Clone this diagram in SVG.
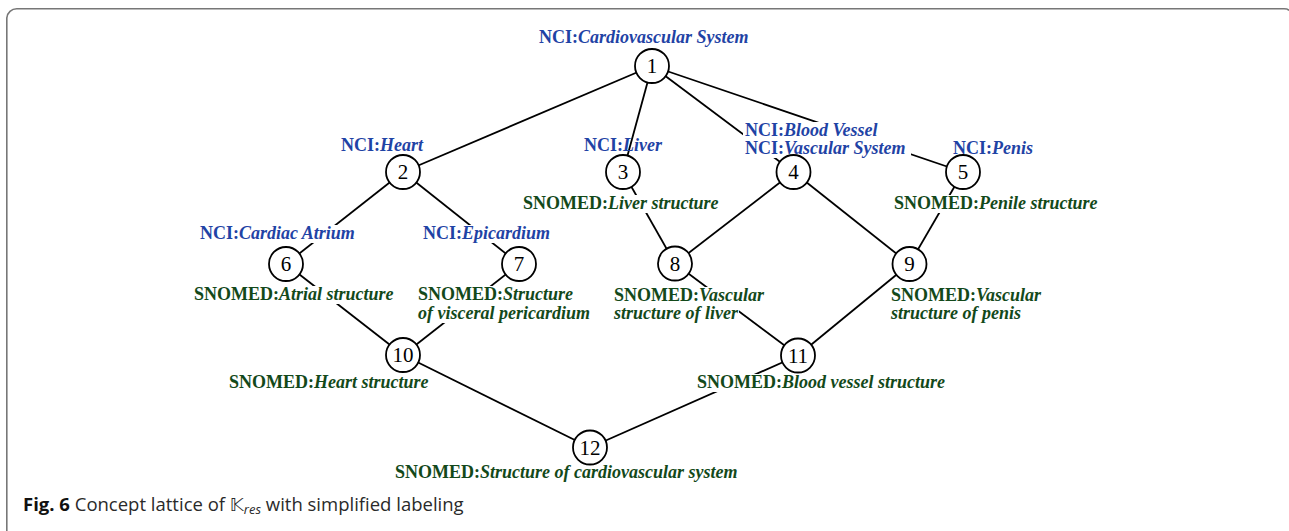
<svg xmlns="http://www.w3.org/2000/svg" width="1289" height="531" viewBox="0 0 1289 531">
<style>
.frame{fill:none;stroke:#777;stroke-width:1.6}
.edge{stroke:#000;stroke-width:1.8;fill:none}
.node circle{fill:#fff;stroke:#000;stroke-width:1.8}
.num{font-family:"Liberation Serif",serif;font-size:21px;text-anchor:middle;fill:#000}
.lbl{font-family:"Liberation Serif",serif;font-size:18px;font-weight:bold}
.nci{fill:#1f43a5}
.sno{fill:#13491a}
.it{font-style:italic}
.cap{font-family:"Open Sans","DejaVu Sans",sans-serif;font-size:18.5px;fill:#2a2a2a}
</style>
<defs>
<mask id="lm" maskUnits="userSpaceOnUse" x="0" y="0" width="1289" height="531">
<rect x="0" y="0" width="1289" height="531" fill="#fff"/>
<rect x="743" y="122" width="139" height="18" fill="#000"/>
<rect x="743" y="140" width="168" height="18" fill="#000"/>
<rect x="198" y="225" width="161" height="18" fill="#000"/>
<rect x="421" y="225" width="132" height="18" fill="#000"/>
<rect x="192" y="286" width="205" height="18" fill="#000"/>
<rect x="416" y="286" width="161" height="18" fill="#000"/>
<rect x="416" y="304" width="177" height="19" fill="#000"/>
<rect x="521" y="195" width="203" height="18" fill="#000"/>
<rect x="892" y="195" width="210" height="18" fill="#000"/>
<rect x="612" y="287" width="158" height="18" fill="#000"/>
<rect x="612" y="305" width="127" height="18" fill="#000"/>
<rect x="695" y="374" width="252" height="18" fill="#000"/>
</mask>
</defs>
<rect width="1289" height="531" fill="#fff"/>
<path class="frame" d="M6.8 531 V18 A10 10 0 0 1 16.8 8.8 H1284 Q1288 8.8 1289 10.5"/>

<g id="connectors" mask="url(#lm)">
<line class="edge" x1="652" y1="66" x2="403" y2="172"/>
<line class="edge" x1="652" y1="66" x2="623" y2="172"/>
<line class="edge" x1="652" y1="66" x2="793.5" y2="172"/>
<line class="edge" x1="652" y1="66" x2="963" y2="172"/>
<line class="edge" x1="403" y1="172" x2="286" y2="264"/>
<line class="edge" x1="403" y1="172" x2="519" y2="264"/>
<line class="edge" x1="623" y1="172" x2="675" y2="263.5"/>
<line class="edge" x1="793.5" y1="172" x2="675" y2="263.5"/>
<line class="edge" x1="793.5" y1="172" x2="909.5" y2="264"/>
<line class="edge" x1="963" y1="172" x2="909.5" y2="264"/>
<line class="edge" x1="286" y1="264" x2="403" y2="355"/>
<line class="edge" x1="519" y1="264" x2="403" y2="355"/>
<line class="edge" x1="675" y1="263.5" x2="798" y2="355.5"/>
<line class="edge" x1="909.5" y1="264" x2="798" y2="355.5"/>
<line class="edge" x1="403" y1="355" x2="590" y2="447.5"/>
<line class="edge" x1="798" y1="355.5" x2="590" y2="447.5"/>
</g>

<g id="n1" class="node"><circle cx="652" cy="66" r="17"/><text class="num" x="652" y="73">1</text>
<text class="lbl nci" x="539" y="43">NCI:<tspan class="it">Cardiovascular System</tspan></text></g>
<g id="n2" class="node"><circle cx="403" cy="172" r="17"/><text class="num" x="403" y="179">2</text>
<text class="lbl nci" x="341" y="151">NCI:<tspan class="it">Heart</tspan></text></g>
<g id="n3" class="node"><circle cx="623" cy="172" r="17"/><text class="num" x="623" y="179">3</text>
<text class="lbl nci" x="584" y="151">NCI:<tspan class="it">Liver</tspan></text>
<text class="lbl sno" x="523" y="209">SNOMED:<tspan class="it">Liver structure</tspan></text></g>
<g id="n4" class="node"><circle cx="793.5" cy="172" r="17"/><text class="num" x="793.5" y="179">4</text>
<text class="lbl nci" x="745" y="136">NCI:<tspan class="it">Blood Vessel</tspan></text>
<text class="lbl nci" x="745" y="154">NCI:<tspan class="it">Vascular System</tspan></text></g>
<g id="n5" class="node"><circle cx="963" cy="172" r="17"/><text class="num" x="963" y="179">5</text>
<text class="lbl nci" x="953" y="154">NCI:<tspan class="it">Penis</tspan></text>
<text class="lbl sno" x="894" y="209">SNOMED:<tspan class="it">Penile structure</tspan></text></g>
<g id="n6" class="node"><circle cx="286" cy="264" r="17"/><text class="num" x="286" y="271">6</text>
<text class="lbl nci" x="200" y="239">NCI:<tspan class="it">Cardiac Atrium</tspan></text>
<text class="lbl sno" x="194" y="300">SNOMED:<tspan class="it">Atrial structure</tspan></text></g>
<g id="n7" class="node"><circle cx="519" cy="264" r="17"/><text class="num" x="519" y="271">7</text>
<text class="lbl nci" x="423" y="239">NCI:<tspan class="it">Epicardium</tspan></text>
<text class="lbl sno" x="418" y="300">SNOMED:<tspan class="it">Structure</tspan></text>
<text class="lbl sno it" x="418" y="319">of visceral pericardium</text></g>
<g id="n8" class="node"><circle cx="675" cy="263.5" r="17"/><text class="num" x="675" y="270.5">8</text>
<text class="lbl sno" x="614" y="301">SNOMED:<tspan class="it">Vascular</tspan></text>
<text class="lbl sno it" x="614" y="319">structure of liver</text></g>
<g id="n9" class="node"><circle cx="909.5" cy="264" r="17"/><text class="num" x="909.5" y="271">9</text>
<text class="lbl sno" x="891" y="301">SNOMED:<tspan class="it">Vascular</tspan></text>
<text class="lbl sno it" x="891" y="319">structure of penis</text></g>
<g id="n10" class="node"><circle cx="403" cy="355" r="17"/><text class="num" x="403" y="362">10</text>
<text class="lbl sno" x="229" y="388">SNOMED:<tspan class="it">Heart structure</tspan></text></g>
<g id="n11" class="node"><circle cx="798" cy="355.5" r="17"/><text class="num" x="798" y="362.5">11</text>
<text class="lbl sno" x="697" y="388">SNOMED:<tspan class="it">Blood vessel structure</tspan></text></g>
<g id="n12" class="node"><circle cx="590" cy="447.5" r="17"/><text class="num" x="590" y="454.5">12</text>
<text class="lbl sno" x="395" y="478">SNOMED:<tspan class="it">Structure of cardiovascular system</tspan></text></g>

<text class="cap" x="23" y="511"><tspan font-weight="bold" fill="#111">Fig. 6</tspan> Concept lattice of <tspan font-family="DejaVu Sans, sans-serif">𝕂</tspan><tspan class="it" font-size="13" dy="3">res</tspan><tspan dy="-3"> with simplified labeling</tspan></text>
</svg>
